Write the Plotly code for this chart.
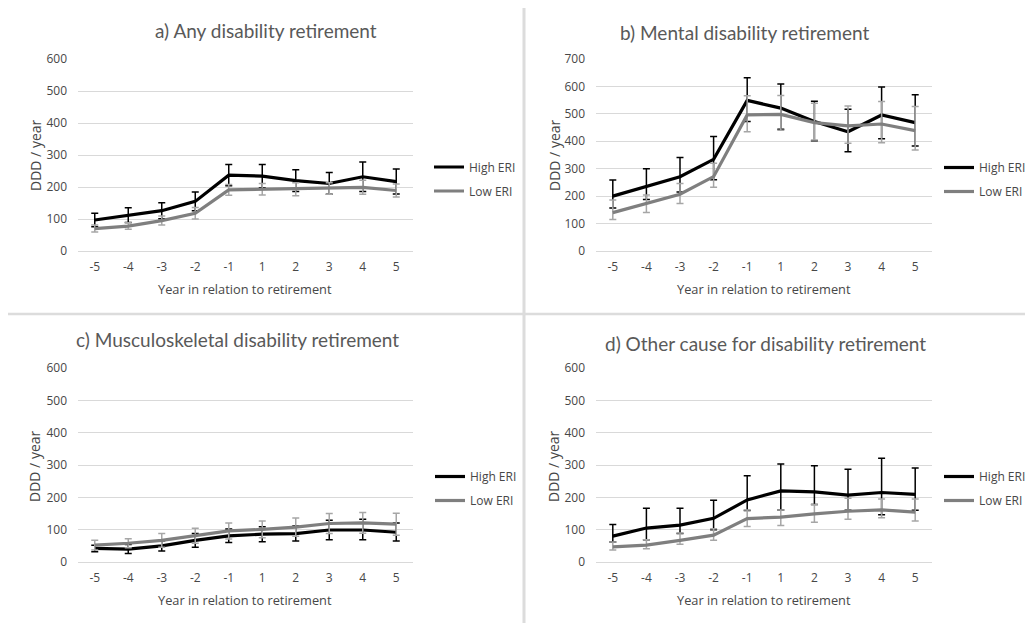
import plotly.graph_objects as go

# The page is shown with the browser's default 8px body margin, so the figure is
# sized to the visible area and positions are given in reference-page pixels.
OFF = 8
W, H = 1033 - OFF, 623 - OFF

years = ["-5", "-4", "-3", "-2", "-1", "1", "2", "3", "4", "5"]
series_names = ["High ERI", "Low ERI"]
titles = ["a) Any disability retirement", "b) Mental disability retirement",
          "c) Musculoskeletal disability retirement", "d) Other cause for disability retirement"]
y_ticks_600 = [0, 100, 200, 300, 400, 500, 600]
y_ticks_700 = [0, 100, 200, 300, 400, 500, 600, 700]

# a) Any disability retirement
a_high = [97, 112, 126, 155, 237, 234, 220, 211, 232, 217]
a_high_up = [118, 135, 151, 184, 270, 270, 254, 245, 278, 256]
a_high_lo = [76, 89, 101, 126, 204, 198, 186, 177, 186, 178]
a_low = [70, 78, 95, 118, 191, 193, 193, 195, 199, 189]
a_low_up = [81, 88, 109, 136, 208, 211, 213, 213, 221, 209]
a_low_lo = [59, 68, 81, 100, 174, 175, 173, 177, 177, 169]

# b) Mental disability retirement
b_high = [200, 236, 271, 334, 549, 521, 472, 435, 496, 468]
b_high_up = [259, 300, 341, 417, 632, 609, 546, 517, 598, 570]
b_high_lo = [157, 188, 215, 260, 472, 444, 402, 362, 409, 383]
b_low = [140, 174, 207, 271, 496, 498, 468, 456, 463, 439]
b_low_up = [186, 204, 246, 320, 566, 567, 539, 529, 545, 527]
b_low_lo = [115, 140, 173, 232, 435, 440, 405, 393, 395, 368]

# c) Musculoskeletal disability retirement
c_high = [42, 40, 50, 67, 81, 86, 88, 99, 99, 92]
c_high_up = [52, 54, 66, 88, 102, 109, 111, 129, 132, 121]
c_high_lo = [32, 26, 34, 46, 60, 63, 65, 69, 69, 65]
c_low = [52, 58, 67, 81, 96, 101, 108, 119, 121, 117]
c_low_up = [67, 72, 88, 104, 121, 127, 136, 150, 153, 151]
c_low_lo = [37, 44, 46, 58, 71, 75, 80, 88, 89, 83]

# d) Other cause for disability retirement
d_high = [80, 105, 114, 135, 192, 220, 217, 207, 215, 209]
d_high_up = [116, 166, 166, 191, 267, 303, 298, 287, 321, 291]
d_high_lo = [62, 69, 88, 100, 159, 161, 178, 160, 146, 160]
d_low = [47, 52, 67, 83, 134, 139, 149, 157, 161, 154]
d_low_up = [62, 69, 90, 103, 161, 161, 178, 197, 195, 195]
d_low_lo = [37, 41, 55, 67, 110, 113, 123, 132, 137, 127]

panels = [
    (a_high, a_high_up, a_high_lo, a_low, a_low_up, a_low_lo, 600, y_ticks_600),
    (b_high, b_high_up, b_high_lo, b_low, b_low_up, b_low_lo, 700, y_ticks_700),
    (c_high, c_high_up, c_high_lo, c_low, c_low_up, c_low_lo, 600, y_ticks_600),
    (d_high, d_high_up, d_high_lo, d_low, d_low_up, d_low_lo, 600, y_ticks_600),
]

# page-pixel geometry of plot areas: (left, right, top, bottom)
areas = [(78, 413, 59, 251), (596, 932, 59, 251), (78, 413, 368, 562), (596, 932, 368, 562)]
title_pos = [(266, 31), (744, 32), (237, 339), (765, 343)]
xtitle_pos = [(245, 289), (764, 289), (245, 600), (764, 600)]
ytitle_pos = [(35, 155), (554, 155), (35, 466), (554, 466)]
legend_pos = [(429, 179), (939, 179.5), (430, 488.5), (939, 488.5)]

TFONT = "Lato"
FONT = "Open Sans"
TXT = "#595959"
TXT2 = "#474747"
HIGH_C = "#000000"
LOW_C = "#7f7f7f"
LOW_ERR_C = "#a6a6a6"
GRID_C = "#d9d9d9"

fig = go.Figure()
layout = dict()
annotations = []


def px(x):
    return (x - OFF) / W


def py(y):
    return (H - (y - OFF)) / H


for i, (hv, hu, hl, lv, lu, ll, ymax, yt) in enumerate(panels):
    n = "" if i == 0 else str(i + 1)
    xa, ya = "x" + n, "y" + n
    leg = "legend" if i == 0 else "legend" + str(i + 1)
    fig.add_trace(go.Scatter(
        x=years, y=hv, name=series_names[0], mode="lines",
        line=dict(color=HIGH_C, width=3.2),
        error_y=dict(type="data", symmetric=False,
                     array=[u - v for u, v in zip(hu, hv)],
                     arrayminus=[v - l for v, l in zip(hv, hl)],
                     color=HIGH_C, thickness=1.5, width=3.5),
        xaxis=xa, yaxis=ya, legend=leg, legendgroup="high" + n,
    ))
    fig.add_trace(go.Scatter(
        x=years, y=lv, name=series_names[1], mode="lines",
        line=dict(color=LOW_C, width=3.2),
        error_y=dict(type="data", symmetric=False,
                     array=[u - v for u, v in zip(lu, lv)],
                     arrayminus=[v - l for v, l in zip(lv, ll)],
                     color=LOW_ERR_C, thickness=1.5, width=3.5),
        xaxis=xa, yaxis=ya, legend=leg, legendgroup="low" + n,
    ))
    l, r, t, b = areas[i]
    layout["xaxis" + n] = dict(
        domain=[px(l), px(r)], anchor=ya, type="category",
        range=[-0.5, 9.5], showgrid=False, zeroline=False, showline=False,
        ticks="", ticklabelstandoff=7,
        tickfont=dict(family=FONT, size=12, color=TXT2), fixedrange=True,
    )
    layout["yaxis" + n] = dict(
        domain=[py(b), py(t)], anchor=xa, range=[0, ymax],
        tickvals=yt, showgrid=True, gridcolor=GRID_C, gridwidth=1,
        zeroline=True, zerolinecolor=GRID_C, zerolinewidth=1,
        showline=False, ticks="", ticklabelstandoff=10,
        tickfont=dict(family=FONT, size=12, color=TXT2), fixedrange=True,
    )
    lx, ly = legend_pos[i]
    layout[leg] = dict(
        x=px(lx), y=py(ly), xanchor="left", yanchor="middle",
        xref="paper", yref="paper",
        font=dict(family=FONT, size=12, color=TXT2),
        bgcolor="rgba(0,0,0,0)", traceorder="grouped", tracegroupgap=5,
        itemwidth=30,
    )
    tx, ty = title_pos[i]
    annotations.append(dict(text=titles[i], x=px(tx), y=py(ty), xref="paper", yref="paper",
                            xanchor="center", yanchor="middle", showarrow=False,
                            font=dict(family=TFONT, size=19, color=TXT)))
    tx, ty = xtitle_pos[i]
    annotations.append(dict(text="Year in relation to retirement", x=px(tx), y=py(ty),
                            xref="paper", yref="paper", xanchor="center", yanchor="middle",
                            showarrow=False, font=dict(family=FONT, size=12.8, color=TXT2)))
    tx, ty = ytitle_pos[i]
    annotations.append(dict(text="DDD / year", x=px(tx), y=py(ty), xref="paper", yref="paper",
                            xanchor="center", yanchor="middle", textangle=-90,
                            showarrow=False, font=dict(family=FONT, size=14, color=TXT2)))

shapes = [
    dict(type="line", xref="paper", yref="paper", x0=px(524), x1=px(524), y0=1, y1=0,
         line=dict(color="#dcdcdc", width=3)),
    dict(type="line", xref="paper", yref="paper", x0=0, x1=1, y0=py(314), y1=py(314),
         line=dict(color="#dcdcdc", width=2.5)),
]

fig.update_layout(
    width=W, height=H,
    margin=dict(l=0, r=0, t=0, b=0, autoexpand=False),
    paper_bgcolor="white", plot_bgcolor="white",
    showlegend=True,
    annotations=annotations, shapes=shapes,
    **layout,
)

fig.write_html("out.html")
